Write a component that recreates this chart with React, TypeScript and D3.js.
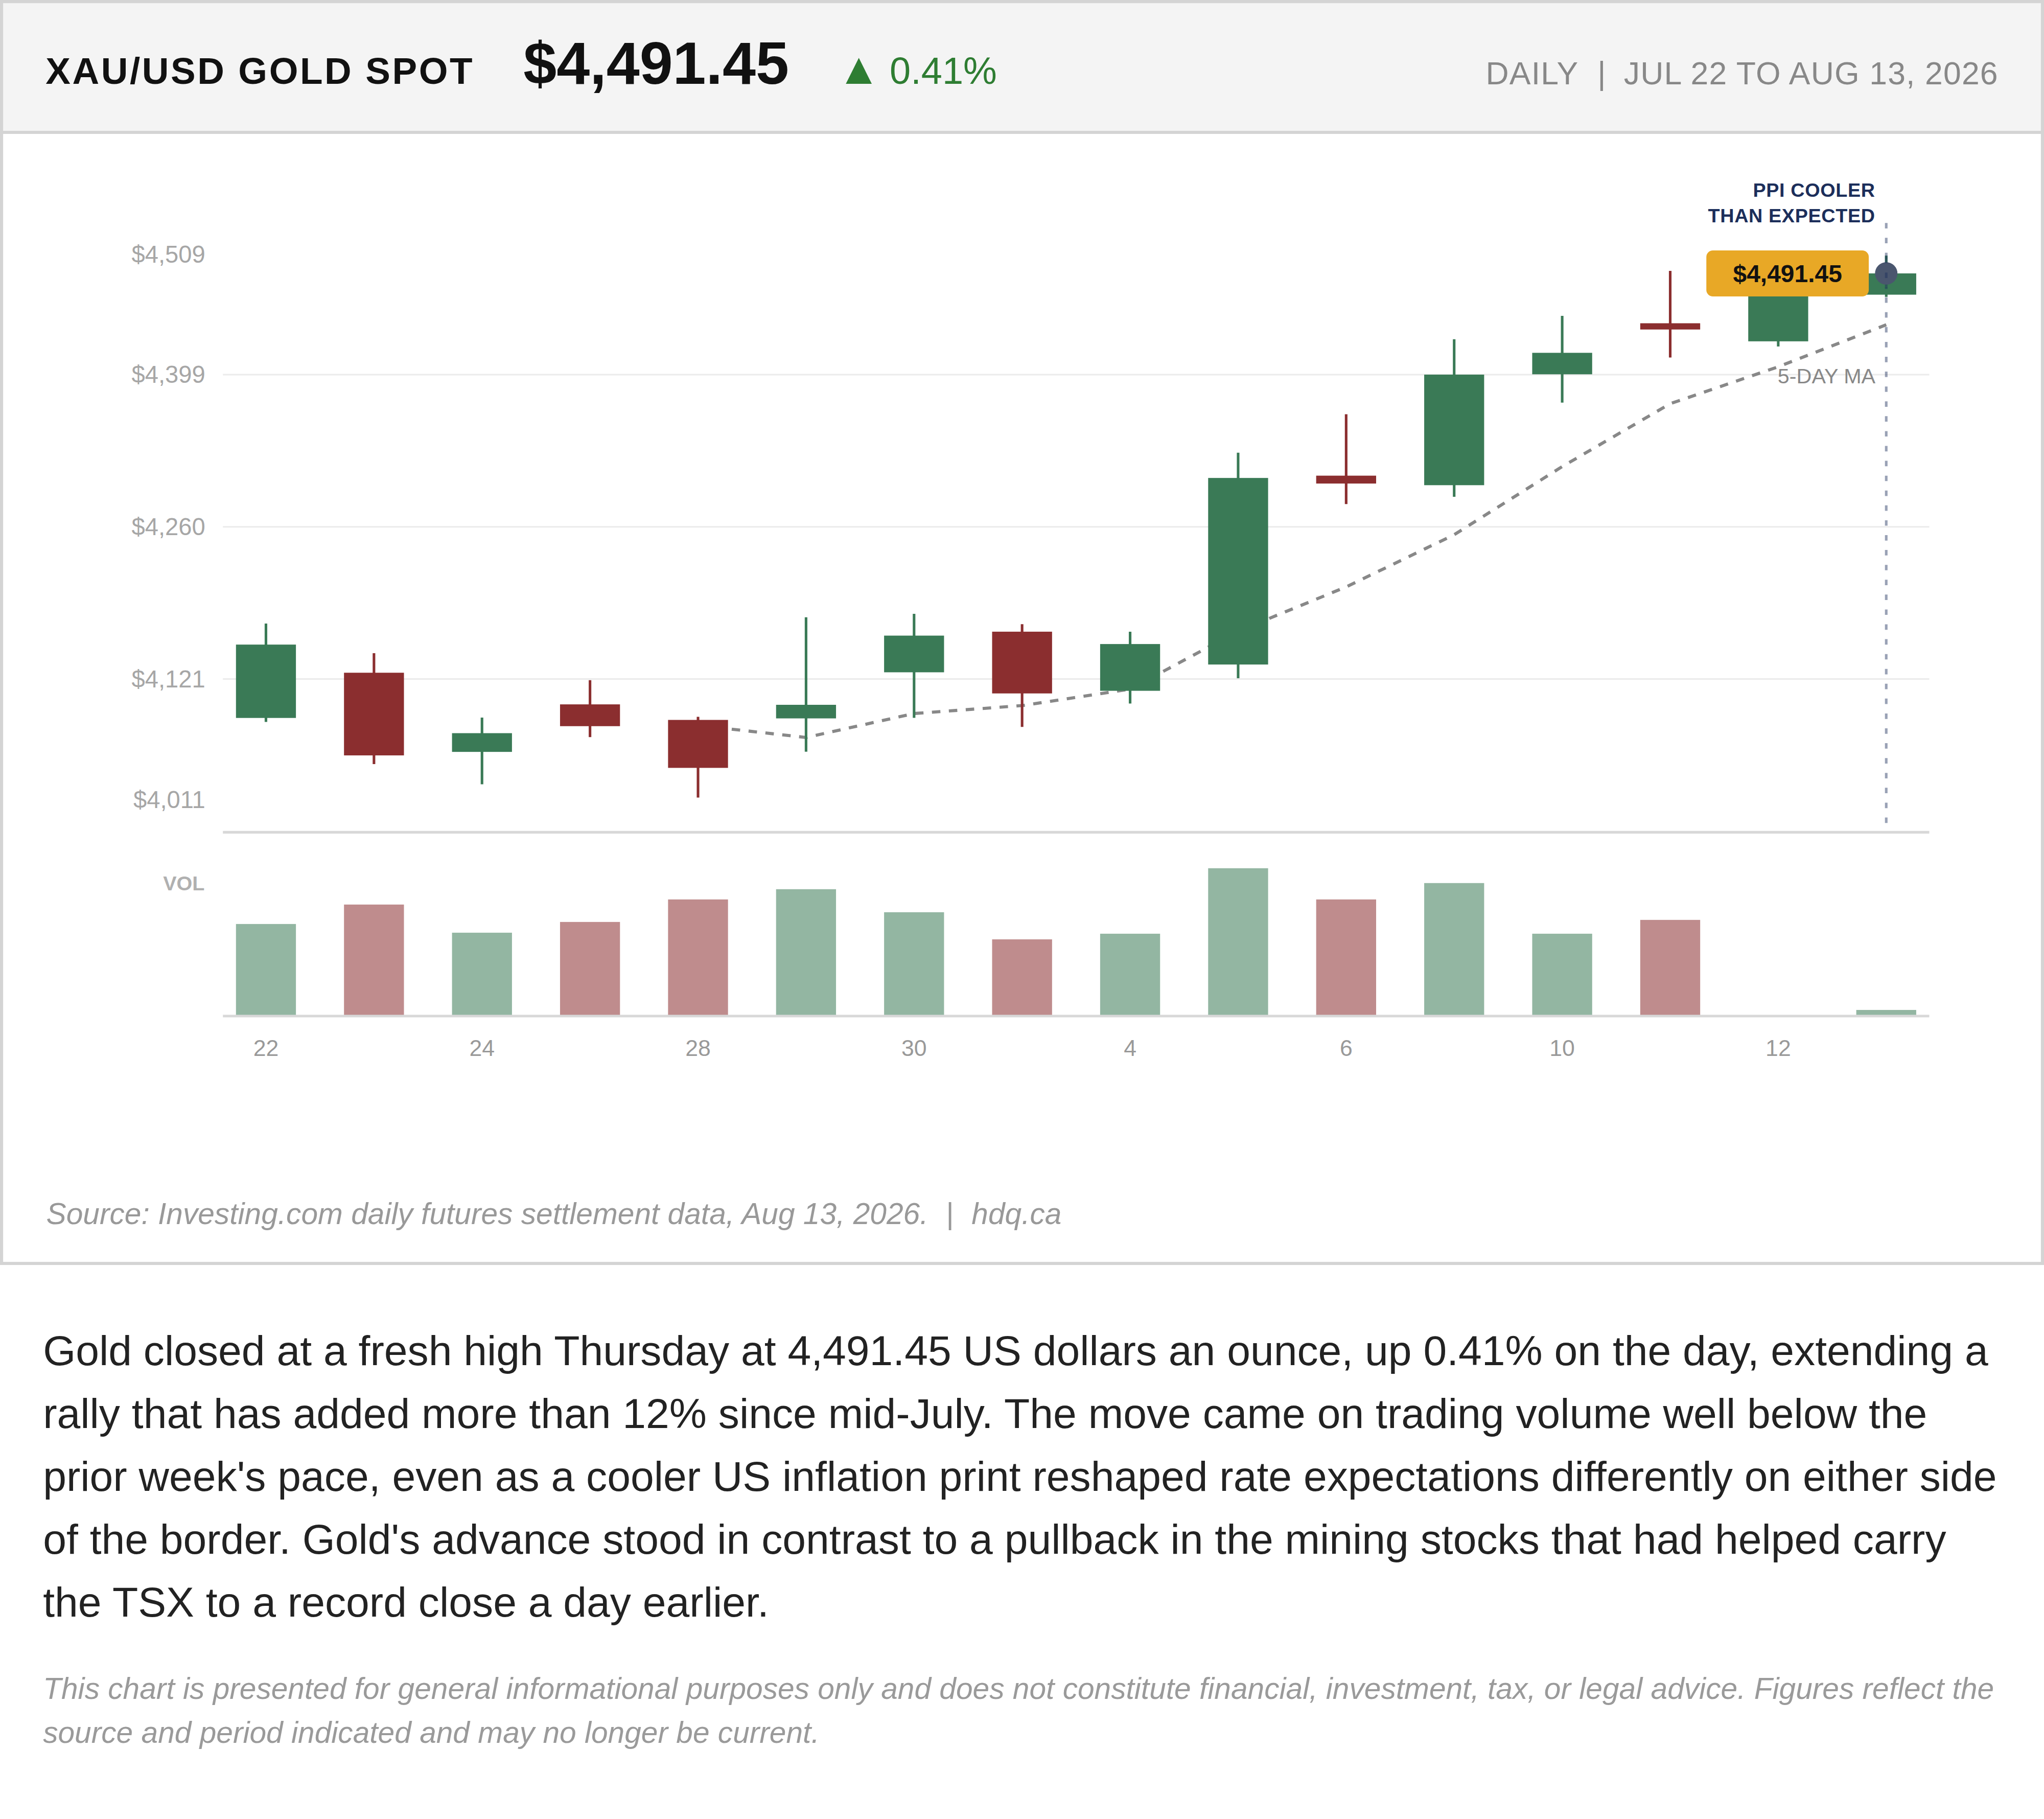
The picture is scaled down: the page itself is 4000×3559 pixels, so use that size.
import React from "react";
import * as d3 from "d3";

// daily futures settlement, Jul 22 – Aug 13, 2026 (Aug 3 closed)
const dates = [
  "2026-07-22", "2026-07-23", "2026-07-24", "2026-07-27", "2026-07-28", "2026-07-29",
  "2026-07-30", "2026-07-31", "2026-08-04", "2026-08-05", "2026-08-06", "2026-08-07",
  "2026-08-10", "2026-08-11", "2026-08-12", "2026-08-13",
];
const opens = [4085.4, 4126.7, 4054.4, 4097.8, 4083.6, 4085.0, 4127.1, 4164.2, 4110.2, 4134.2, 4306.7, 4298.0, 4399.3, 4445.9, 4429.4, 4472.0];
const highs = [4171.6, 4144.5, 4085.7, 4119.9, 4086.4, 4177.3, 4180.5, 4171.0, 4164.2, 4327.7, 4362.8, 4431.3, 4452.7, 4493.7, 4478.0, 4507.7];
const lows = [4081.8, 4043.3, 4024.8, 4067.9, 4012.7, 4054.6, 4085.5, 4077.2, 4098.6, 4121.7, 4280.8, 4287.4, 4373.4, 4414.6, 4424.7, 4470.0];
const closes = [4152.4, 4051.2, 4071.5, 4077.9, 4039.8, 4097.4, 4160.6, 4107.8, 4152.9, 4304.6, 4299.5, 4399.0, 4418.9, 4440.2, 4473.11, 4491.45];
// thousand contracts
const volumes = [180, 218, 163, 184, 228, 248, 203, 150, 161, 289, 228, 260, 161, 188, 1.5, 12];

const priceTicks = [4011, 4121, 4260, 4399, 4509];
const gridTicks = [4121, 4260, 4399];
const yDomain = [3981, 4537.5];
const maWindow = 5;

const bodyLines = [
  "Gold closed at a fresh high Thursday at 4,491.45 US dollars an ounce, up 0.41% on the day, extending a",
  "rally that has added more than 12% since mid-July. The move came on trading volume well below the",
  "prior week's pace, even as a cooler US inflation print reshaped rate expectations differently on either side",
  "of the border. Gold's advance stood in contrast to a pullback in the mining stocks that had helped carry",
  "the TSX to a record close a day earlier.",
];
const disclaimerLines = [
  "This chart is presented for general informational purposes only and does not constitute financial, investment, tax, or legal advice. Figures reflect the",
  "source and period indicated and may no longer be current.",
];

const W = 1568;
const H = 1395.1;
const FONT = "'Liberation Sans', Arial, Helvetica, sans-serif";
const GREEN = "#3a7a56";
const RED = "#8b2e2f";
const NAVY = "#1c2e5a";

const plot = { left: 171, right: 1480, top: 171, bottom: 638.3 };
const vol = { top: 665.9, base: 779.3 };

const App: React.FC = () => {
  const parse = d3.timeParse("%Y-%m-%d");
  const dayFmt = d3.timeFormat("%-d");
  const money = d3.format(",.2f");
  const idx = d3.range(dates.length);

  const x = d3.scaleBand<number>().domain(idx).range([plot.left, plot.right]).paddingInner(0.445).paddingOuter(0.121);
  const cx = (i: number) => (x(i) ?? 0) + x.bandwidth() / 2;
  const y = d3.scaleLinear().domain(yDomain).range([plot.bottom, plot.top]);
  const vy = d3.scaleLinear().domain([0, d3.max(volumes) ?? 1]).range([vol.base, vol.top]);

  const ma = idx
    .filter((i) => i >= maWindow - 1)
    .map((i) => ({ i, v: d3.mean(closes.slice(i - maWindow + 1, i + 1)) ?? 0 }));
  const maLine = d3.line<{ i: number; v: number }>().x((d) => cx(d.i)).y((d) => y(d.v));

  const last = idx.length - 1;
  const lastClose = closes[last];
  const pct = (lastClose / closes[last - 1] - 1) * 100;
  const lx = cx(last);
  const ly = y(lastClose);

  return (
    <>
      <style>{`body{margin:0}`}</style>
      <svg width={4000} height={3559} viewBox={`0 0 ${W} ${H}`} style={{ display: "block" }} fontFamily={FONT}>
        <rect x={0} y={0} width={W} height={H} fill="#fff" />
        {/* card */}
        <rect x={0} y={0} width={W} height={101.5} fill="#f4f4f4" />
        <rect x={1.2} y={1.2} width={W - 2.4} height={967.8} fill="none" stroke="#d4d4d4" strokeWidth={2.4} />
        <line x1={0} x2={W} y1={101.5} y2={101.5} stroke="#d4d4d4" strokeWidth={2.4} />

        {/* header */}
        <text x={35} y={64.4} fontSize={28.6} fontWeight="bold" letterSpacing={1.4} fill="#111">XAU/USD GOLD SPOT</text>
        <text x={401.5} y={64.4} fontSize={45.8} fontWeight="bold" fill="#111">${money(lastClose)}</text>
        <text x={642} y={64.4} fontSize={34} fill="#2e7d32">▲</text>
        <text x={682.5} y={64.4} fontSize={29} fill="#2e7d32">{d3.format(".2f")(pct)}%</text>
        <text x={1211} y={64.7} fontSize={24.5} letterSpacing={0.45} textAnchor="end" fill="#888">DAILY</text>
        <text x={1228.7} y={64.7} fontSize={24.5} textAnchor="middle" fill="#888">|</text>
        <text x={1533} y={64.7} fontSize={24.5} letterSpacing={0.45} textAnchor="end" fill="#888">JUL 22 TO AUG 13, 2026</text>

        {/* grid + price ticks */}
        {gridTicks.map((t) => (
          <line key={t} x1={plot.left} x2={plot.right} y1={y(t)} y2={y(t)} stroke="#ebebeb" strokeWidth={1.2} />
        ))}
        {priceTicks.map((t) => (
          <text key={t} x={157.5} y={y(t)} dy="0.35em" fontSize={18.5} textAnchor="end" fill="#a6a6a6">
            ${d3.format(",")(t)}
          </text>
        ))}

        {/* 5-day MA */}
        <path d={maLine(ma) ?? ""} fill="none" stroke="#888" strokeWidth={2.4} strokeDasharray="6.5 6.5" />
        <text x={1438.7} y={294} fontSize={16.2} textAnchor="end" fill="#888">5-DAY MA</text>

        {/* candles */}
        {idx.map((i) => {
          const up = closes[i] >= opens[i];
          const c = up ? GREEN : RED;
          const top = y(Math.max(opens[i], closes[i]));
          const bot = y(Math.min(opens[i], closes[i]));
          return (
            <g key={i}>
              <line x1={cx(i)} x2={cx(i)} y1={y(highs[i])} y2={y(lows[i])} stroke={c} strokeWidth={2} />
              <rect x={x(i)} y={top} width={x.bandwidth()} height={Math.max(bot - top, 1)} fill={c} />
            </g>
          );
        })}

        <line x1={plot.left} x2={plot.right} y1={plot.bottom} y2={plot.bottom} stroke="#d8d8d8" strokeWidth={2} />

        {/* volume */}
        <text x={157} y={683} fontSize={15.5} fontWeight="bold" textAnchor="end" fill="#b0b0b0">VOL</text>
        {idx.map((i) => (
          <rect
            key={i}
            x={x(i)}
            y={vy(volumes[i])}
            width={x.bandwidth()}
            height={vol.base - vy(volumes[i])}
            fill={closes[i] >= opens[i] ? GREEN : RED}
            fillOpacity={0.55}
          />
        ))}
        <line x1={plot.left} x2={plot.right} y1={vol.base} y2={vol.base} stroke="#d8d8d8" strokeWidth={2} />

        {idx.filter((i) => i % 2 === 0).map((i) => (
          <text key={i} x={cx(i)} y={810} fontSize={17.5} textAnchor="middle" fill="#999">
            {dayFmt(parse(dates[i]) as Date)}
          </text>
        ))}

        {/* PPI annotation */}
        <line x1={lx} x2={lx} y1={plot.top} y2={plot.bottom} stroke={NAVY} strokeOpacity={0.45} strokeWidth={2} strokeDasharray="4.2 7.2" />
        <text x={1438.5} y={151} fontSize={14.8} fontWeight="bold" letterSpacing={0.25} textAnchor="end" fill={NAVY}>PPI COOLER</text>
        <text x={1438.5} y={170.5} fontSize={14.8} fontWeight="bold" letterSpacing={0.25} textAnchor="end" fill={NAVY}>THAN EXPECTED</text>
        <circle cx={lx} cy={ly} r={8.6} fill="#4a566e" />
        <line x1={lx} x2={lx} y1={ly - 12} y2={ly + 12} stroke={NAVY} strokeOpacity={0.45} strokeWidth={2} strokeDasharray="4.2 7.2" />
        <rect x={lx - 138} y={ly - 17.6} width={124.6} height={35.3} rx={5} fill="#e8a826" />
        <text x={lx - 75.7} y={ly} dy="0.36em" fontSize={18.8} fontWeight="bold" textAnchor="middle" fill="#111">
          ${money(lastClose)}
        </text>

        {/* source */}
        <text x={35.5} y={938.9} fontSize={23} fontStyle="italic" fill="#999">
          Source: Investing.com daily futures settlement data, Aug 13, 2026.
        </text>
        <text x={728.8} y={938.9} fontSize={23} textAnchor="middle" fill="#999">|</text>
        <text x={745.3} y={938.9} fontSize={23} fontStyle="italic" fill="#999">hdq.ca</text>

        {/* body copy */}
        {bodyLines.map((t, i) => (
          <text key={i} x={33} y={1047 + i * 48.2} fontSize={32.25} fill="#222">{t}</text>
        ))}
        {disclaimerLines.map((t, i) => (
          <text key={i} x={33} y={1302.8 + i * 33.9} fontSize={23} fontStyle="italic" fill="#9a9a9a">{t}</text>
        ))}
      </svg>
    </>
  );
};

export default App;
